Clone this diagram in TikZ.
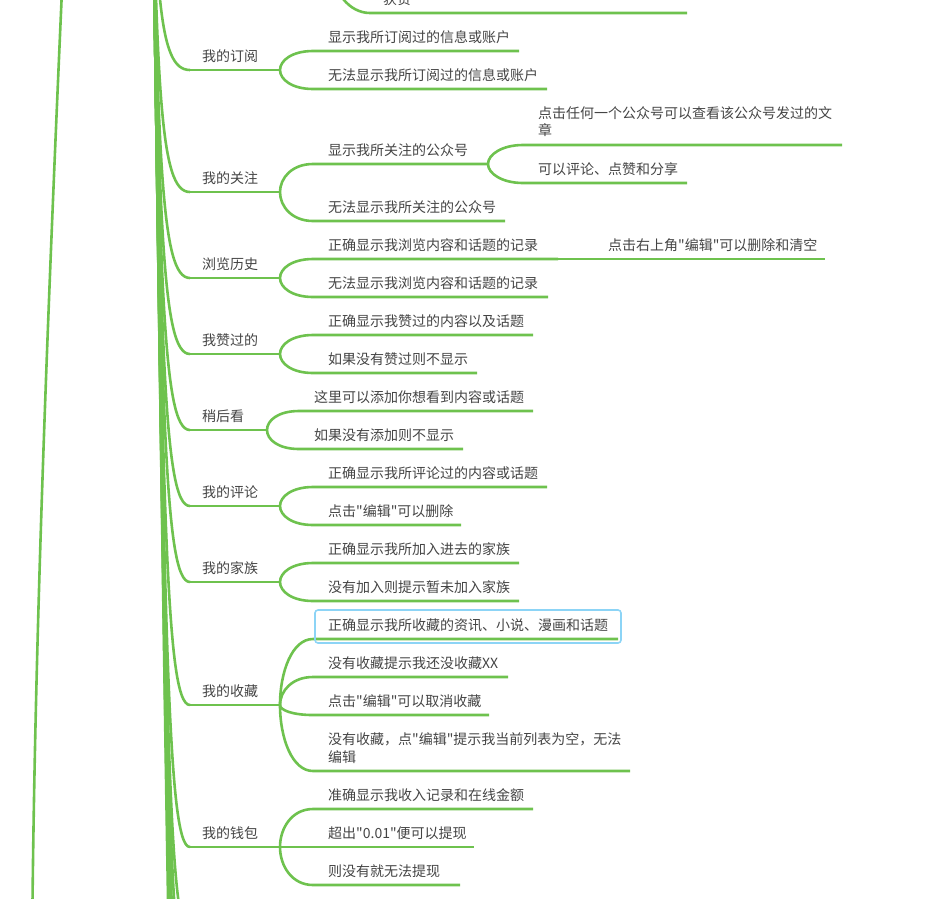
\documentclass[tikz,border=0pt]{standalone}
\usepackage{fontspec}
\newfontfamily\cjkf{Noto Sans CJK SC}
\usetikzlibrary{calc}
\definecolor{lg}{RGB}{110,194,78}
\definecolor{tx}{RGB}{68,68,68}
\definecolor{sel}{RGB}{140,212,246}
% curve from the (off-picture) root to a level-1 coordinate #1 at height #2
\newcommand\mmcurve[2]{%
  \draw[br] (root) .. controls ({150+0.012*(#2+300)},{-300+0.8*(#2+300)})
    and ({150+0.012*(#2+300)+0.1*(40-0.012*(#2+300))},#2) .. (#1);
}
\newcommand\mmkid[6]{%
  \node[lab] (#1) at (#4,{#3-14}) {#6};
  \coordinate (#1e) at ({#4-15},#3);
  \coordinate (#1f) at (#5,#3);
  \draw[br] (#2) to[kid] (#1e) -- (#1f);
}
\newcommand\mmtop[4]{%
  \node[lab] (t#1) at (202,{#2-14}) {#4};
  \coordinate (a#1) at (190,#2);
  \coordinate (s#1) at (#3,#2);
  \mmcurve{a#1}{#2}
  \draw[br] (a#1) -- (s#1);
}
\begin{document}
\begin{tikzpicture}[x=1pt,y=-1pt,
  br/.style={draw=lg,line width=2.6pt},
  lab/.style={anchor=west,inner sep=0pt,text=tx,font=\cjkf\fontsize{14}{17.5}\selectfont},
  kid/.style={to path={.. controls ($(\tikztostart)!0.5!(\tikztostart|-\tikztotarget)$) and ($(\tikztotarget)+(-21,0)$) .. (\tikztotarget)}}]
\useasboundingbox (0,0) rectangle (942,898);
\clip (0,0) rectangle (942,898);
\coordinate (root) at (150,-300);

% far left branch
\coordinate (l0) at (66,-100);
\coordinate (l1) at (32,960);
\draw[br] (l0) .. controls (48,300) and (34,650) .. (l1);

% branches below the frame
\foreach \k/\yy in {a/935,b/990,c/1060,d/1140,e/1250,f/1400}{
  \coordinate (x\k) at (190,\yy);
  \mmcurve{x\k}{\yy}
}

% partial item at the top
\coordinate (p0) at (333,-30);
\coordinate (p1) at (370,13);
\coordinate (p2) at (687,13);
\draw[br] (p0) to[kid] (p1) -- (p2);
\node[lab] (pt) at (383,-1) {获赞};

% level 1
\mmtop{1}{70}{280}{我的订阅}
\mmtop{2}{192}{280}{我的关注}
\mmtop{3}{278}{280}{浏览历史}
\mmtop{4}{354}{280}{我赞过的}
\mmtop{5}{430}{267}{稍后看}
\mmtop{6}{506}{280}{我的评论}
\mmtop{7}{582}{280}{我的家族}
\mmtop{8}{705}{280}{我的收藏}
\mmtop{9}{847}{280}{我的钱包}

% 我的订阅
\mmkid{c11}{s1}{51}{328}{519}{显示我所订阅过的信息或账户}
\mmkid{c12}{s1}{89}{328}{547}{无法显示我所订阅过的信息或账户}
% 我的关注
\mmkid{c21}{s2}{164}{328}{488}{显示我所关注的公众号}
\mmkid{c22}{s2}{221}{328}{505}{无法显示我所关注的公众号}
\node[lab,align=left] (g211) at (538,121.5) {点击任何一个公众号可以查看该公众号发过的文\\章};
\coordinate (g211e) at (523,145);
\coordinate (g211f) at (842,145);
\draw[br] (c21f) to[kid] (g211e) -- (g211f);
\mmkid{g212}{c21f}{183}{538}{687}{可以评论、点赞和分享}
% 浏览历史
\mmkid{c31}{s3}{259}{328}{558}{正确显示我浏览内容和话题的记录}
\mmkid{c32}{s3}{297}{328}{548}{无法显示我浏览内容和话题的记录}
\mmkid{g311}{c31f}{259}{608}{825}{点击右上角"编辑"可以删除和清空}
% 我赞过的
\mmkid{c41}{s4}{335}{328}{533}{正确显示我赞过的内容以及话题}
\mmkid{c42}{s4}{373}{328}{477}{如果没有赞过则不显示}
% 稍后看
\mmkid{c51}{s5}{411}{314}{533}{这里可以添加你想看到内容或话题}
\mmkid{c52}{s5}{449}{314}{463}{如果没有添加则不显示}
% 我的评论
\mmkid{c61}{s6}{487}{328}{547}{正确显示我所评论过的内容或话题}
\mmkid{c62}{s6}{525}{328}{461}{点击"编辑"可以删除}
% 我的家族
\mmkid{c71}{s7}{563}{328}{519}{正确显示我所加入进去的家族}
\mmkid{c72}{s7}{601}{328}{519}{没有加入则提示暂未加入家族}
% 我的收藏
\mmkid{c81}{s8}{639}{328}{618}{正确显示我所收藏的资讯、小说、漫画和话题}
\mmkid{c82}{s8}{677}{328}{508}{没有收藏提示我还没收藏XX}
\mmkid{c83}{s8}{715}{328}{489}{点击"编辑"可以取消收藏}
\node[lab,align=left] (c84) at (328,748) {没有收藏，点"编辑"提示我当前列表为空，无法\\编辑};
\coordinate (c84e) at (313,771);
\coordinate (c84f) at (630,771);
\draw[br] (s8) to[kid] (c84e) -- (c84f);
\draw[draw=sel,line width=1.6pt,rounded corners=3pt] (315,610) rectangle (621,643);
% 我的钱包
\mmkid{c91}{s9}{809}{328}{533}{准确显示我收入记录和在线金额}
\mmkid{c92}{s9}{847}{328}{474}{超出"0.01"便可以提现}
\mmkid{c93}{s9}{885}{328}{460}{则没有就无法提现}
\end{tikzpicture}
\end{document}
